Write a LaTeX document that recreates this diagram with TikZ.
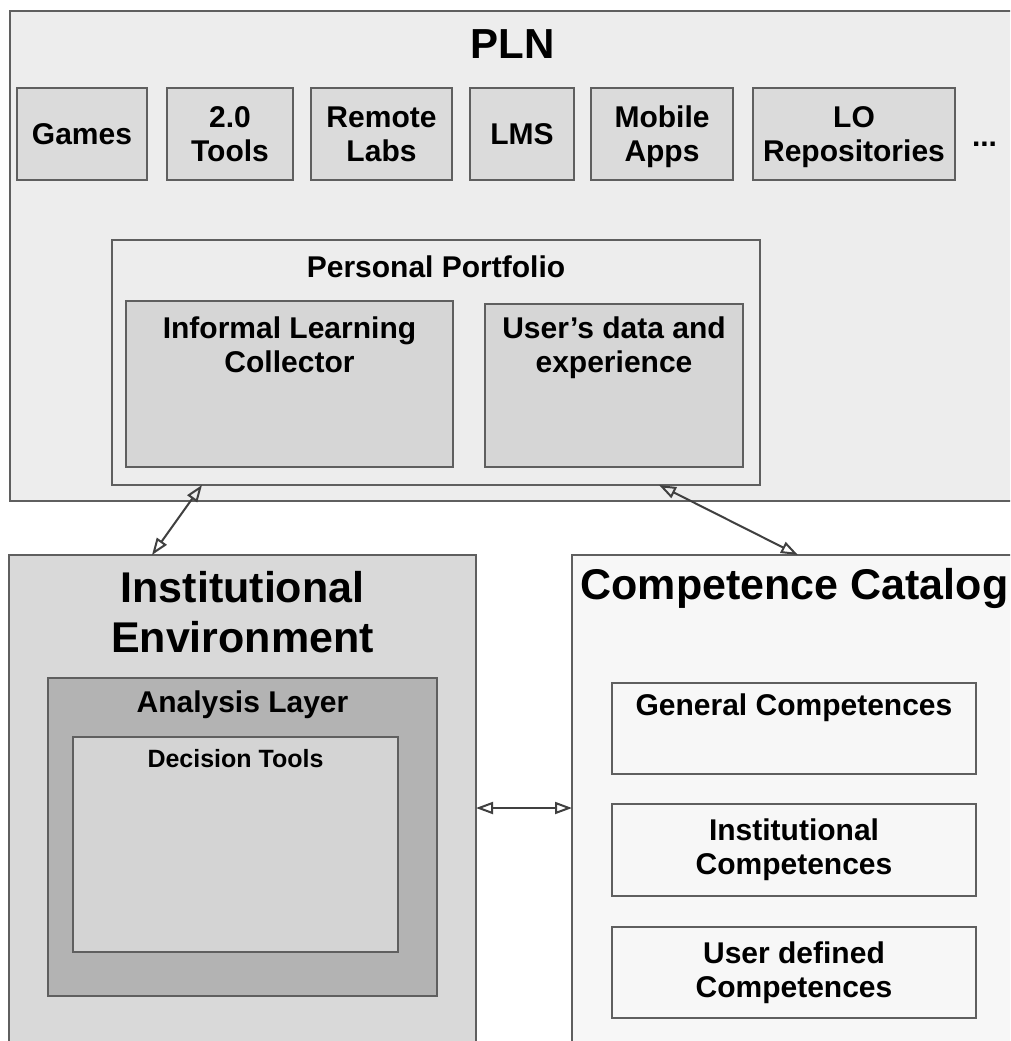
\documentclass[tikz,border=0pt]{standalone}
\usepackage{fontspec}
\setmainfont{Liberation Sans}
\usetikzlibrary{positioning}
\usetikzlibrary{arrows.meta}

\definecolor{edgegray}{HTML}{5F5F5F}
\definecolor{arrowgray}{HTML}{404040}
\definecolor{plngray}{HTML}{EDEDED}
\definecolor{topgray}{HTML}{DBDBDB}
\definecolor{innergray}{HTML}{D6D6D6}
\definecolor{instgray}{HTML}{D9D9D9}
\definecolor{analysisgray}{HTML}{B3B3B3}
\definecolor{decisiongray}{HTML}{D4D4D4}
\definecolor{catgray}{HTML}{F7F7F7}

\tikzset{
  box/.style={draw=edgegray, line width=1.8pt, rectangle, inner sep=0pt, outer sep=0pt},
  tool/.style={box, fill=topgray, midtext, text depth=0pt, minimum height=92pt},
  midtext/.style={font=\fontsize{30}{34}\selectfont\bfseries, align=center, inner sep=0pt},
  bigtext/.style={font=\fontsize{43}{50}\selectfont\bfseries, align=center, inner sep=0pt},
  link/.style={draw=arrowgray, line width=2pt, {Triangle[open,length=17pt,width=12pt]}-{Triangle[open,length=17pt,width=12pt]}},
}

\begin{document}
\begin{tikzpicture}[x=1pt, y=-1pt, outer sep=0]
        \useasboundingbox (0,0) rectangle (1010,1041);
        \clip (0,0) rectangle (1010,1041);
        \fill [white] (0,0) rectangle (1010,1041);
        % PLN
        \node [box, fill=plngray, anchor=north west, minimum width=1005pt, minimum height=490pt] (pln) at (10,11) {};
        \node [bigtext, font=\fontsize{42}{48}\selectfont\bfseries] (plntitle) at ([yshift=-33pt]pln.north) {PLN};
        \node [tool, anchor=north west, minimum width=130pt] (games) at (17,88) {Games};
        \node [tool, minimum width=126pt, right=20pt of games] (tools) {2.0\\Tools};
        \node [tool, minimum width=141pt, right=18pt of tools] (labs) {Remote\\Labs};
        \node [tool, minimum width=104pt, right=18pt of labs] (lms) {LMS};
        \node [tool, minimum width=142pt, right=17pt of lms] (apps) {Mobile\\Apps};
        \node [tool, minimum width=202pt, right=20pt of apps] (repos) {LO\\Repositories};
        \node [midtext, right=17pt of repos, yshift=-10pt] (more) {...};
        % Personal Portfolio
        \node [box, fill=plngray, anchor=north west, minimum width=648pt, minimum height=245pt] (portfolio) at (112,240) {};
        \node [midtext] (porttitle) at ([yshift=-27pt]portfolio.north) {Personal Portfolio};
        \node [box, fill=innergray, anchor=north west, minimum width=327pt, minimum height=166pt] (collector) at (126,301) {};
        \node [midtext] (collectortext) at ([yshift=-44pt]collector.north) {Informal Learning\\Collector};
        \node [box, fill=innergray, anchor=north west, minimum width=258pt, minimum height=163pt] (userdata) at (485,304) {};
        \node [midtext] (userdatatext) at ([yshift=-44pt]userdata.north) {User’s data and\\experience};
        % Institutional Environment
        \node [box, fill=instgray, anchor=north west, minimum width=467pt, minimum height=506pt] (inst) at (9,555) {};
        \node [bigtext] (insttitle) at ([yshift=-57pt]inst.north) {Institutional\\Environment};
        \node [box, fill=analysisgray, anchor=north west, minimum width=389pt, minimum height=318pt] (analysis) at (48,678) {};
        \node [midtext] (analysistitle) at ([yshift=-27pt]analysis.north) {Analysis Layer};
        \node [box, fill=decisiongray, anchor=north west, minimum width=325pt, minimum height=215pt] (decision) at (73,737) {};
        \node [midtext, font=\fontsize{25}{29}\selectfont\bfseries] (decisiontitle) at ([yshift=-22pt]decision.north) {Decision Tools};
        % Competence Catalog
        \node [box, fill=catgray, anchor=north west, minimum width=445pt, minimum height=506pt] (catalog) at (572,555) {};
        \node [bigtext] (catalogtitle) at ([yshift=-33pt]catalog.north) {Competence Catalog};
        \node [box, fill=catgray, anchor=north west, minimum width=364pt, minimum height=91pt] (general) at (612,683) {};
        \node [midtext] (generaltext) at ([yshift=-25pt]general.north) {General Competences};
        \node [box, fill=catgray, midtext, minimum width=364pt, minimum height=92pt, below=30pt of general] (instcomp) {Institutional\\Competences};
        \node [box, fill=catgray, midtext, minimum width=364pt, minimum height=91pt, below=31pt of instcomp] (usercomp) {User defined\\Competences};
        % links
        \draw [link] ([xshift=90pt]portfolio.south west) -- ([xshift=143pt]inst.north west);
        \draw [link] ([xshift=547pt]portfolio.south west) -- ([xshift=226pt]catalog.north west);
        \draw [link] (inst) -- (catalog);
    \end{tikzpicture}
\end{document}
